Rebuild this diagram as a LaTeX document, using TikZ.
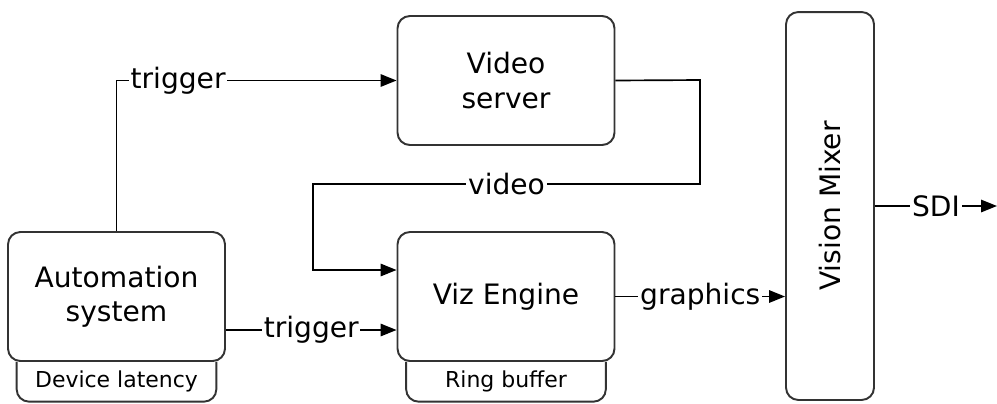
\documentclass[tikz,border=0pt]{standalone}
\usepackage{fontspec}
\setmainfont{DejaVu Sans}
\usetikzlibrary{arrows.meta,positioning}

\begin{document}
\begin{tikzpicture}[x=0.02cm,y=-0.02cm,>={Triangle[length=9pt,width=7pt]},
    font=\fontsize{16}{19.5}\selectfont]
    \tikzstyle{block}=[draw=black!80,line width=1.1pt,rounded corners=7pt,fill=white,
        minimum width=4.34cm,minimum height=2.58cm,align=center,inner sep=2pt]
    \tikzstyle{tab}=[minimum width=3.98cm,minimum height=0.78cm,inner sep=0pt,
        font=\fontsize{12.5}{14}\selectfont]
    \tikzstyle{lbl}=[fill=white,inner sep=1pt]
    \tikzstyle{wire}=[->,line width=0.95pt]
    \useasboundingbox (0,0) rectangle (997,403);

    \node[block]  (auto)   at (116.5,296.5) {Automation\\system};
    \node[block]  (video)  at (506,80.5)    {Video\\server};
    \node[block]  (viz)    at (506,296.5)   {Viz Engine};
    \node[block,minimum width=1.76cm,minimum height=7.76cm] (mixer) at (830,206)
        {\rotatebox{90}{Vision Mixer}};
    \node[tab]    (autotab) [below=0pt of auto] {Device latency};
    \node[tab]    (viztab)  [below=0pt of viz]  {Ring buffer};
    \coordinate   (trig) at (0,330);
    \coordinate   (out)  at (997,206);

    % tabs under the boxes
    \foreach \t in {autotab,viztab}
        \draw[draw=black!80,line width=1.1pt,rounded corners=7pt]
            (\t.north west) -- (\t.south west) -- (\t.south east) -- (\t.north east);

    % connectors
    \draw[wire] (auto.north) |- node[lbl,pos=0.61] {trigger} (video.west);
    \draw[wire] (video.east) -- (700,80) -- (700,184) -- node[lbl] {video} (313,184)
        -- (313,270) -- (viz.west |- 0,270);
    \draw[wire] (auto.east |- trig) -- node[lbl] {trigger} (viz.west |- trig);
    \draw[wire] (viz.east) -- node[lbl] {graphics} (mixer.west |- viz.east);
    \draw[wire] (mixer.east |- out) -- node[lbl] {SDI} (out);
\end{tikzpicture}
\end{document}
